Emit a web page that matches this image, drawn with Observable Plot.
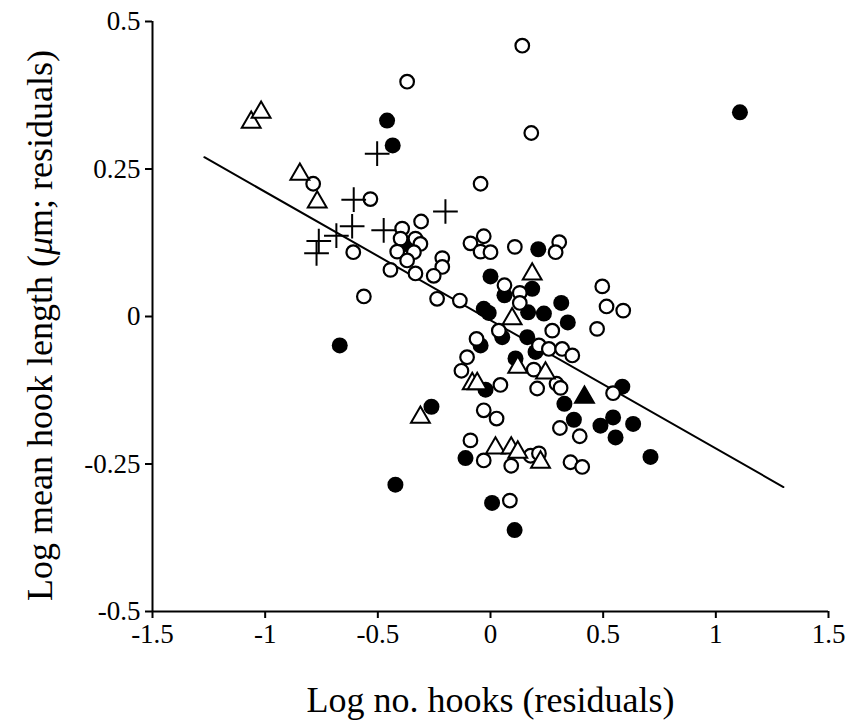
<!DOCTYPE html>
<html>
<head>
<meta charset="utf-8">
<script src="https://cdn.jsdelivr.net/npm/d3@7"></script>
<script src="https://cdn.jsdelivr.net/npm/@observablehq/plot@0.6"></script>
<style>
  html, body { margin: 0; padding: 0; background: #fff; }
</style>
</head>
<body>
<div id="chart"></div>
<script>
// Axis ticks and labels
const xTicks = [-1.5, -1, -0.5, 0, 0.5, 1, 1.5];
const xTickLabels = ["-1.5", "-1", "-0.5", "0", "0.5", "1", "1.5"];
const yTicks = [-0.5, -0.25, 0, 0.25, 0.5];
const yTickLabels = ["-0.5", "-0.25", "0", "0.25", "0.5"];
const xLabel = "Log no. hooks (residuals)";
const yLabel = "Log mean hook length (μm; residuals)";

// Open circles
const openCircleX = [-0.370, 0.141, 0.181, -0.044, -0.787, -0.533, -0.609, -0.308, -0.392, -0.399, -0.333, -0.311, -0.414, -0.340, -0.370, -0.444, -0.333, -0.214, -0.214, -0.252, -0.237, -0.136, -0.562, -0.089, -0.030, -0.044, 0.000, 0.108, 0.305, 0.289, 0.062, 0.130, 0.130, 0.496, 0.515, 0.589, 0.473, 0.274, 0.037, -0.062, 0.215, 0.259, 0.318, 0.363, -0.104, -0.129, 0.192, 0.044, 0.207, 0.293, 0.311, 0.544, -0.030, 0.027, 0.308, 0.396, -0.089, -0.030, 0.092, 0.178, 0.215, 0.355, 0.407, 0.086];
const openCircleY = [0.398, 0.459, 0.311, 0.225, 0.225, 0.199, 0.109, 0.161, 0.149, 0.132, 0.132, 0.123, 0.110, 0.109, 0.095, 0.079, 0.073, 0.099, 0.084, 0.069, 0.030, 0.027, 0.034, 0.124, 0.136, 0.110, 0.109, 0.118, 0.126, 0.109, 0.053, 0.040, 0.023, 0.051, 0.017, 0.010, -0.021, -0.024, -0.024, -0.038, -0.049, -0.055, -0.055, -0.066, -0.069, -0.092, -0.090, -0.116, -0.122, -0.114, -0.121, -0.130, -0.159, -0.173, -0.189, -0.203, -0.210, -0.244, -0.253, -0.236, -0.232, -0.247, -0.255, -0.312];

// Filled circles
const filledCircleX = [-0.459, -0.434, -0.377, 0.212, 0.000, 0.062, 0.185, -0.030, -0.008, 0.167, 0.237, 0.314, 0.343, 0.052, -0.044, 0.163, 0.200, 0.111, -0.022, 0.328, 0.585, 0.370, 0.488, 0.544, 0.555, 0.633, -0.111, 0.710, 0.007, 0.107, -0.422, -0.669, -0.262, 1.107];
const filledCircleY = [0.332, 0.290, 0.123, 0.114, 0.068, 0.036, 0.047, 0.013, 0.006, 0.007, 0.005, 0.023, -0.010, -0.035, -0.049, -0.035, -0.060, -0.071, -0.124, -0.148, -0.119, -0.175, -0.185, -0.171, -0.205, -0.182, -0.240, -0.238, -0.316, -0.362, -0.285, -0.049, -0.153, 0.346];

// Open triangles
const openTriangleX = [-1.062, -1.018, -0.846, -0.769, 0.185, 0.096, -0.311, -0.081, -0.059, 0.121, 0.244, 0.022, 0.092, 0.121, 0.222];
const openTriangleY = [0.329, 0.346, 0.241, 0.194, 0.072, -0.004, -0.171, -0.114, -0.114, -0.086, -0.096, -0.223, -0.223, -0.230, -0.247];

// Filled triangles
const filledTriangleX = [0.417];
const filledTriangleY = [-0.137];

// Plus signs
const plusX = [-0.503, -0.607, -0.614, -0.474, -0.684, -0.762, -0.772, -0.200];
const plusY = [0.276, 0.198, 0.153, 0.146, 0.137, 0.128, 0.107, 0.178];

// Regression line end points
const fitX = [-1.27, 1.30];
const fitY = [0.27, -0.289];

const pts = (xs, ys) => xs.map((x, i) => ({x, y: ys[i]}));
const xFmt = d => xTickLabels[xTicks.indexOf(d)];
const yFmt = d => yTickLabels[yTicks.indexOf(d)];

const chart = Plot.plot({
  width: 846,
  height: 725,
  marginLeft: 152,
  marginRight: 18,
  marginTop: 21,
  marginBottom: 114,
  style: {fontFamily: "'Liberation Serif', 'Times New Roman', serif", fontSize: "27px", background: "#fff", color: "#000"},
  x: {domain: [-1.5, 1.5]},
  y: {domain: [-0.5, 0.5]},
  marks: [
    Plot.axisX({ticks: xTicks, tickFormat: xFmt, tickSize: 7, tickPadding: 5, strokeWidth: 2, label: null, fontSize: 27}),
    Plot.axisY({ticks: yTicks, tickFormat: yFmt, tickSize: 7, tickPadding: 5, strokeWidth: 2, label: null, fontSize: 27}),
    Plot.ruleY([-0.5], {stroke: "#000", strokeWidth: 2}),
    Plot.ruleX([-1.5], {stroke: "#000", strokeWidth: 2}),
    Plot.line(pts(fitX, fitY), {x: "x", y: "y", stroke: "#000", strokeWidth: 2}),
    Plot.dot(pts(filledCircleX, filledCircleY), {x: "x", y: "y", r: 8, fill: "#000", stroke: "none"}),
    Plot.dot(pts(openCircleX, openCircleY), {x: "x", y: "y", r: 6.8, fill: "#fff", stroke: "#000", strokeWidth: 2.2}),
    Plot.dot(pts(openTriangleX, openTriangleY), {x: "x", y: "y", symbol: "triangle", r: 7, fill: "#fff", stroke: "#000", strokeWidth: 2}),
    Plot.dot(pts(filledTriangleX, filledTriangleY), {x: "x", y: "y", symbol: "triangle", r: 7, fill: "#000", stroke: "#000", strokeWidth: 2}),
    Plot.dot(pts(plusX, plusY), {x: "x", y: "y", symbol: "plus", r: 8, stroke: "#000", strokeWidth: 2}),
    Plot.text([xLabel], {frameAnchor: "bottom", textAnchor: "middle", lineAnchor: "middle", dy: 89, fontSize: 36, fill: "#000", className: "xlab"}),
    Plot.text([yLabel], {frameAnchor: "left", textAnchor: "middle", lineAnchor: "middle", dx: -112, dy: 9, rotate: -90, fontSize: 36, fill: "#000", className: "ylab"})
  ]
});

document.getElementById("chart").appendChild(chart);

// Italicise the μ in the y-axis label
d3.select(chart).selectAll(".ylab text").each(function () {
  const t = d3.select(this);
  const s = t.text();
  const k = s.indexOf("μ");
  if (k >= 0) {
    t.text(null);
    t.append("tspan").text(s.slice(0, k));
    t.append("tspan").attr("font-style", "italic").text("μ");
    t.append("tspan").text(s.slice(k + 1));
  }
});
</script>
</body>
</html>
